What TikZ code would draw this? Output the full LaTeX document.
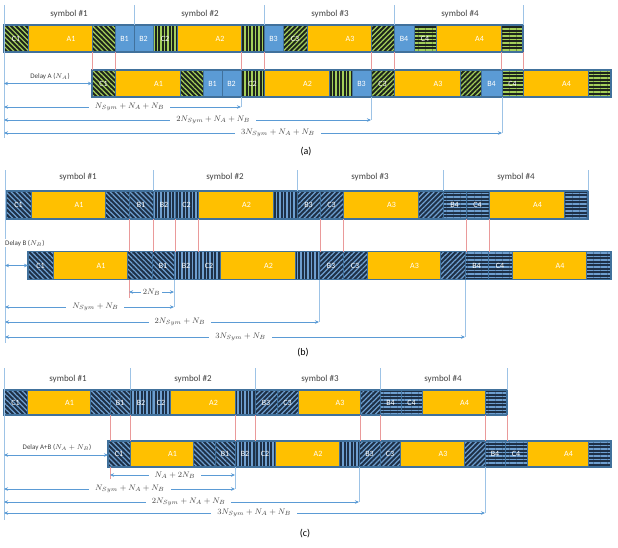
\documentclass[tikz,border=0pt]{standalone}
\usepackage{fontspec}
\setmainfont{Carlito}
\usepackage{amsmath}
\usepackage{tikz}
\usetikzlibrary{patterns.meta}
\usetikzlibrary{arrows.meta}

\definecolor{dataorange}{HTML}{FFC000}
\definecolor{blockblue}{HTML}{5B9BD5}
\definecolor{slotedge}{HTML}{41719C}
\definecolor{hatchdark}{HTML}{1D251C}
\definecolor{hatchnavy}{HTML}{1E3148}
\definecolor{stripegreen}{HTML}{A4CF5A}
\definecolor{stripeblue}{HTML}{6E9FD0}
\definecolor{dimblue}{HTML}{5B9BD5}
\definecolor{guideblue}{HTML}{9DC3E6}
\definecolor{markred}{HTML}{EA9A9A}
\definecolor{labelgray}{HTML}{404040}

\tikzset{
  slot/.style={draw=slotedge, line width=0.4pt, inner sep=0pt, outer sep=0pt, text=white, font=\fontsize{8}{9}\selectfont},
  slotA/.style={fill=dataorange, execute at begin node={\hspace*{22pt}}},
  slotB/.style={fill=blockblue},
  ghatch/.style={preaction={fill=hatchdark}, pattern={Lines[angle=#1, distance=3.5pt, line width=1.2pt]}, pattern color=stripegreen},
  bhatch/.style={preaction={fill=hatchnavy}, pattern={Lines[angle=#1, distance=3.5pt, line width=1.2pt]}, pattern color=stripeblue},
  gpat1/.style={ghatch=-45}, gpat2/.style={ghatch=90}, gpat3/.style={ghatch=45}, gpat4/.style={ghatch=0},
  bpat1/.style={bhatch=-45}, bpat2/.style={bhatch=90}, bpat3/.style={bhatch=45}, bpat4/.style={bhatch=0},
  barframe/.style={draw=slotedge, line width=1.2pt},
  guide/.style={draw=guideblue, line width=0.6pt},
  redmark/.style={draw=markred, line width=0.5pt},
  dim/.style={draw=dimblue, line width=0.6pt, {Stealth[length=4pt,width=3.5pt]}-{Stealth[length=4pt,width=3.5pt]}},
  dimlabel/.style={fill=white, inner xsep=6pt, inner ysep=1pt, text=labelgray, font=\fontsize{8}{9}\selectfont},
  delaylabel/.style={fill=white, inner sep=1pt, text=labelgray, font=\fontsize{7}{8}\selectfont},
  symlabel/.style={text=labelgray, font=\fontsize{9}{10}\selectfont},
  caption/.style={text=black, font=\fontsize{10}{12}\selectfont}
}

% one frame of slots: name, centre y, height, list x0/x1/style/text
\newcommand{\slotbar}[4]{%
  \foreach \xa/\xb/\sty/\lab [count=\k] in {#4} {
    \node[slot, \sty, minimum width={\xb-\xa}, minimum height=#3, anchor=west] (#1s\k) at (\xa,#2) {\lab};
  }%
}

\begin{document}
\begin{tikzpicture}[x=1pt, y=-1pt]
\useasboundingbox (0,0) rectangle (618,547);

% ================= (a) delay A =================
\foreach \x/\n in {69/1, 200/2, 330/3, 460/4}
  \node[symlabel] (aSym\n) at (\x,14) {symbol \#\n};

% the two frames
\slotbar{a1}{38.5}{27}{4/28/gpat1/C1, 28/92/slotA/A1, 92/115/gpat1/{}, 115/134/slotB/B1, 134/153/slotB/B2, 153/177/gpat2/C2, 177/241/slotA/A2, 241/264/gpat2/{}, 264/283/slotB/B3, 283/307/gpat3/C3, 307/371/slotA/A3, 371/394/gpat3/{}, 394/414/slotB/B4, 414/436/gpat4/C4, 436/501/slotA/A4, 501/523/gpat4/{}}
\slotbar{a2}{83.5}{27}{92/115/gpat1/C1, 115/180/slotA/A1, 180/203/gpat1/{}, 203/222/slotB/B1, 222/241/slotB/B2, 241/264/gpat2/C2, 264/329/slotA/A2, 329/352/gpat2/{}, 352/371/slotB/B3, 371/394/gpat3/C3, 394/460/slotA/A3, 460/481/gpat3/{}, 481/502/slotB/B4, 502/523/gpat4/C4, 523/588/slotA/A4, 588/611/gpat4/{}}
\draw[barframe] (a1s1.north west) rectangle (a1s16.south east);
\draw[barframe] (a2s1.north west) rectangle (a2s16.south east);

% symbol borders
\coordinate (aTop) at (4,5);
\coordinate (aBot) at (4,138);
\draw[guide] (aTop) -- (aBot);
\foreach \n in {a1s4.north east, a1s9.north west, a1s13.north west, a1s16.north east}
  \draw[guide] (\n) -- ++(0,-20);

% repeated parts
\foreach \n in {a1s3, a1s8, a1s12, a1s16} {
  \draw[redmark] (\n.south west) -- (\n.south west |- a2s1.north);
  \draw[redmark] (\n.south east) -- (\n.south east |- a2s1.north);
}

% delay
\coordinate (aDelay) at (4,83.5);
\draw[dim] (aDelay) -- (a2s1.west);
\node[delaylabel] (aDelayText) at (50,76) {Delay A ($N_A$)};

% lengths
\foreach \n/\y/\p/\t in {a2s6/107/0.53/{$N_{Sym}+N_A+N_B$}, a2s10/120/0.57/{$2N_{Sym}+N_A+N_B$}, a2s14/133/0.55/{$3N_{Sym}+N_A+N_B$}} {
  \coordinate (\n-l) at (4,\y);
  \coordinate (\n-r) at (\n.south west |- \n-l);
  \draw[guide] (\n.south west) -- (\n-r);
  \draw[dim] (\n-l) -- node[dimlabel, pos=\p] {\t} (\n-r);
}
\node[caption] (capA) at (306,152) {(a)};

% ================= (b) delay B =================
\foreach \x/\n in {78/1, 225/2, 370/3, 516/4}
  \node[symlabel] (bSym\n) at (\x,177) {symbol \#\n};

\slotbar{b1}{205}{28}{6/31/bpat1/C1, 31/105/slotA/A1, 105/129/bpat1/{}, 129/153/bpat1/B1, 153/175/bpat2/B2, 175/198/bpat2/C2, 198/273/slotA/A2, 273/297/bpat2/{}, 297/320/bpat3/B3, 320/343/bpat3/C3, 343/418/slotA/A3, 418/443/bpat3/{}, 443/466/bpat4/B4, 466/489/bpat4/C4, 489/564/slotA/A4, 564/588/bpat4/{}}
\slotbar{b2}{265.5}{28}{28/53/bpat1/C1, 53/127/slotA/A1, 127/152/bpat1/{}, 152/174/bpat1/B1, 174/198/bpat2/B2, 198/220/bpat2/C2, 220/295/slotA/A2, 295/319/bpat2/{}, 319/343/bpat3/B3, 343/367/bpat3/C3, 367/440/slotA/A3, 440/465/bpat3/{}, 465/488/bpat4/B4, 488/512/bpat4/C4, 512/586/slotA/A4, 586/611/bpat4/{}}
\draw[barframe] (b1s1.north west) rectangle (b1s16.south east);
\draw[barframe] (b2s1.north west) rectangle (b2s16.south east);

\coordinate (bTop) at (5,170);
\coordinate (bBot) at (5,343);
\draw[guide] (bTop) -- (bBot);
\foreach \n in {b1s5.north west, b1s9.north west, b1s13.north west, b1s16.north east}
  \draw[guide] (\n) -- ++(0,-21);

\foreach \n in {b1s4, b1s6, b1s10, b1s14} {
  \draw[redmark] (\n.south west) -- (\n.south west |- b2s1.north);
  \draw[redmark] (\n.south east) -- (\n.south east |- b2s1.north);
}

\coordinate (bDelay) at (5,265.5);
\draw[dim] (bDelay) -- (b2s1.west);
\node[delaylabel, anchor=west] (bDelayText) at (4,243) {Delay B ($N_B$)};

% 2N_B
\coordinate (bRow0) at (5,292);
\coordinate (bGap-l) at (b1s4.south west |- bRow0);
\coordinate (bGap-r) at (b2s5.south west |- bRow0);
\draw[redmark] (b1s4.south west |- b2s1.south) -- ([yshift=-6pt]bGap-l);
\draw[dim] (bGap-l) -- node[dimlabel, inner xsep=2pt] {$2N_B$} (bGap-r);

\foreach \n/\y/\p/\t in {b2s5/307/0.535/{$N_{Sym}+N_B$}, b2s9/322/0.557/{$2N_{Sym}+N_B$}, b2s13/337/0.512/{$3N_{Sym}+N_B$}} {
  \coordinate (\n-l) at (5,\y);
  \coordinate (\n-r) at (\n.south west |- \n-l);
  \draw[guide] (\n.south west) -- (\n-r);
  \draw[dim] (\n-l) -- node[dimlabel, pos=\p] {\t} (\n-r);
}
\node[caption] (capB) at (303,353) {(b)};

% ================= (c) delay A+B =================
\foreach \x/\n in {68/1, 193/2, 320/3, 443/4}
  \node[symlabel] (cSym\n) at (\x,379) {symbol \#\n};

\slotbar{c1}{402.5}{25}{4/27/bpat1/C1, 27/90/slotA/A1, 90/110/bpat1/{}, 110/130/bpat1/B1, 130/152/bpat2/B2, 152/170/bpat2/C2, 170/235/slotA/A2, 235/255/bpat2/{}, 255/277/bpat3/B3, 277/298/bpat3/C3, 298/360/slotA/A3, 360/380/bpat3/{}, 380/401/bpat4/B4, 401/422/bpat4/C4, 422/485/slotA/A4, 485/507/bpat4/{}}
\slotbar{c2}{454}{26}{108/130/bpat1/C1, 130/193/slotA/A1, 193/215/bpat1/{}, 215/235/bpat1/B1, 235/255/bpat2/B2, 255/275/bpat2/C2, 275/339/slotA/A2, 339/359/bpat2/{}, 359/380/bpat3/B3, 380/400/bpat3/C3, 400/464/slotA/A3, 464/485/bpat3/{}, 485/505/bpat4/B4, 505/527/bpat4/C4, 527/588/slotA/A4, 588/611/bpat4/{}}
\draw[barframe] (c1s1.north west) rectangle (c1s16.south east);
\draw[barframe] (c2s1.north west) rectangle (c2s16.south east);

\coordinate (cTop) at (4,368);
\coordinate (cBot) at (4,520);
\draw[guide] (cTop) -- (cBot);
\foreach \n in {c1s5.north west, c1s9.north west, c1s13.north west, c1s16.north east}
  \draw[guide] (\n) -- ++(0,-22);

\foreach \n in {c1s4, c1s8, c1s12, c1s16} {
  \draw[redmark] (\n.south west) -- (\n.south west |- c2s1.north);
  \draw[redmark] (\n.south east) -- (\n.south east |- c2s1.north);
}

\coordinate (cDelay) at (4,455);
\draw[dim] (cDelay) -- (c2s1.west |- cDelay);
\node[delaylabel] (cDelayText) at (57,447) {Delay A+B ($N_A+N_B$)};

% N_A + 2N_B
\coordinate (cRow0) at (4,475);
\coordinate (cGap-l) at (c1s4.south west |- cRow0);
\coordinate (cGap-r) at (c2s5.south west |- cRow0);
\draw[redmark] (c1s4.south west |- c2s1.south) -- ([yshift=-4pt]cGap-l);
\draw[dim] (cGap-l) -- node[dimlabel, pos=0.52] {$N_A+2N_B$} (cGap-r);

\foreach \n/\y/\p/\t in {c2s5/489/0.545/{$N_{Sym}+N_A+N_B$}, c2s9/502/0.52/{$2N_{Sym}+N_A+N_B$}, c2s13/513/0.52/{$3N_{Sym}+N_A+N_B$}} {
  \coordinate (\n-l) at (4,\y);
  \coordinate (\n-r) at (\n.south west |- \n-l);
  \draw[guide] (\n.south west) -- (\n-r);
  \draw[dim] (\n-l) -- node[dimlabel, pos=\p] {\t} (\n-r);
}
\node[caption] (capC) at (305,534) {(c)};

\end{tikzpicture}
\end{document}
